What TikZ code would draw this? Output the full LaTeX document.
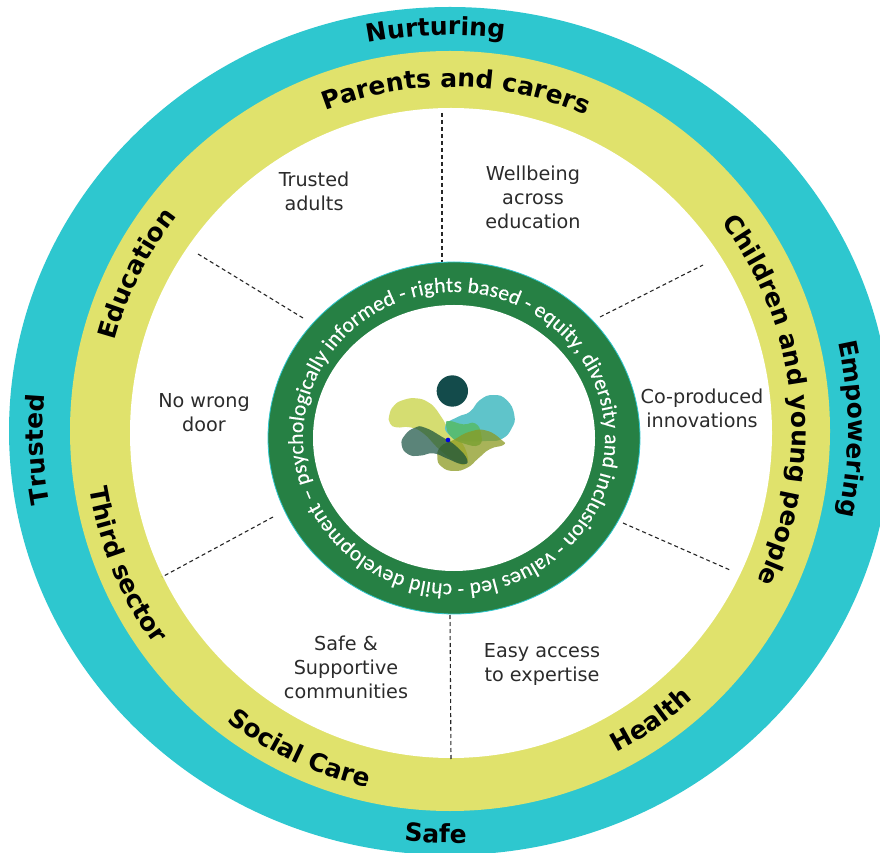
\documentclass[tikz,border=0pt]{standalone}
\usepackage{fontspec}
\usetikzlibrary{decorations.text}
\setmainfont{DejaVu Sans}
\newfontfamily\boldring{DejaVu Sans Bold}
\newfontfamily\ringfont[FakeBold=0.3]{Carlito}
\definecolor{tealring}{HTML}{2EC7CF}
\definecolor{yellowring}{HTML}{E0E26C}
\definecolor{greenring}{HTML}{268044}
\definecolor{bodytext}{HTML}{2B2B2B}
\definecolor{logodark}{HTML}{134B4B}
\definecolor{logolime}{HTML}{D3DC6A}
\definecolor{logoteal}{HTML}{5FC4CA}
\definecolor{logopatch}{HTML}{57BC6C}
\definecolor{logoolive}{HTML}{8C9A22}
\definecolor{logomoss}{HTML}{0E4A3A}
\tikzset{
  sector/.style={font=\fontsize{19.2}{24}\selectfont, text=bodytext, align=center, inner sep=0pt},
  divider/.style={draw=black!85, dashed, dash pattern=on 4pt off 3pt, line width=1.1pt},
}
\newcommand{\cwlabel}[5]{\path[decorate, decoration={text along path, text align=center, text={|\boldring\fontsize{25}{27}\selectfont|#5}}] ([shift={(#3+#4:#1 and #2)}]c) arc[start angle=#3+#4, end angle=#3-#4, x radius=#1, y radius=#2];}
\newcommand{\ccwlabel}[5]{\path[decorate, decoration={text along path, text align=center, text={|\boldring\fontsize{25}{27}\selectfont|#5}}] ([shift={(#3-#4:#1 and #2)}]c) arc[start angle=#3-#4, end angle=#3+#4, x radius=#1, y radius=#2];}
\begin{document}
\begin{tikzpicture}[x=1pt,y=1pt]
\useasboundingbox (0,0) rectangle (880,852);
\clip (0,0) rectangle (880,852);
\fill[white] (0,0) rectangle (880,852);
\coordinate (c) at (450,421);
\coordinate (i) at (454,414);
% rings
\fill[tealring] (c) ellipse [x radius=441, y radius=424];
\fill[yellowring] (c) ellipse [x radius=380, y radius=380];
\fill[white] (451,419) ellipse [x radius=321, y radius=325];
% dividers
\coordinate (d1a) at (442,739); \coordinate (d1b) at (442,590);
\coordinate (d2a) at (600,535); \coordinate (d2b) at (703,587);
\coordinate (d3a) at (623,329); \coordinate (d3b) at (730,282);
\coordinate (d4a) at (450,237); \coordinate (d4b) at (451,92);
\coordinate (d5a) at (273,335); \coordinate (d5b) at (162,275);
\coordinate (d6a) at (303,534); \coordinate (d6b) at (198,598);
\draw[divider] (d1a) -- (d1b);
\draw[divider] (d2a) -- (d2b);
\draw[divider] (d3a) -- (d3b);
\draw[divider] (d4a) -- (d4b);
\draw[divider] (d5a) -- (d5b);
\draw[divider] (d6a) -- (d6b);
% inner ring
\fill[greenring, draw=tealring, line width=0.8pt] (i) ellipse [x radius=186, y radius=176];
\fill[white] (i) ellipse [x radius=141, y radius=133];
\path[decorate, decoration={text along path, text align=fit to path, text={|\ringfont\fontsize{21.5}{23}\selectfont\color{white}|psychologically informed - rights based - equity, diversity and inclusion - values led - child development –}}]
  ([shift={(198:151 and 146)}]i) arc[start angle=198, end angle=-160, x radius=151, y radius=146];
% logo
\begin{scope}[shift={(380,487)}, xscale=1/3, yscale=-1/3]
  \fill[logodark] (217,78) circle (47);
  \fill[logolime, opacity=.95] plot[smooth cycle, tension=.85] coordinates {(28,150) (42,122) (70,105) (110,100) (145,112) (170,135) (190,165) (205,190) (240,225) (262,270) (258,295) (235,295) (180,255) (130,205) (90,187) (50,187) (30,175)};
  \fill[logoteal] plot[smooth cycle, tension=.85] coordinates {(197,180) (235,155) (270,140) (300,105) (340,90) (380,105) (403,150) (395,190) (365,222) (320,228) (250,228) (210,212)};
  \fill[logopatch, opacity=.9] plot[smooth cycle, tension=.85] coordinates {(198,180) (208,168) (250,178) (285,175) (303,205) (297,240) (250,235) (212,214)};
  \fill[logoolive, opacity=.75] plot[smooth cycle, tension=.85] coordinates {(172,278) (182,245) (220,225) (270,200) (320,197) (365,225) (370,240) (330,252) (295,280) (262,308) (220,318) (185,305)};
  \fill[logomoss, opacity=.68] plot[smooth cycle, tension=.85] coordinates {(65,240) (75,210) (105,188) (135,188) (185,215) (230,245) (262,285) (245,297) (200,280) (160,265) (120,272) (85,268)};
  \fill[blue!90!black] (204,225) circle (7);
\end{scope}
% sector texts
\node[sector] (n1) at (314,661) {Trusted\\adults};
\node[sector] (n2) at (533,655) {Wellbeing\\across\\education};
\node[sector] (n3) at (702,444) {Co-produced\\innovations};
\node[sector] (n4) at (204,439) {No wrong\\door};
\node[sector] (n5) at (346,185) {Safe \&\\Supportive\\communities};
\node[sector] (n6) at (542,188) {Easy access\\to expertise};
% curved bold labels
\cwlabel{415}{396}{92}{40}{Nurturing}
\cwlabel{344}{344}{89}{40}{Parents and carers}
\cwlabel{342}{342}{5.7}{50}{Children and young people}
\cwlabel{347}{347}{153.4}{30}{Education}
\cwlabel{407}{407}{182.6}{20}{Trusted}
\cwlabel{398}{398}{0.3}{25}{Empowering}
\ccwlabel{365}{365}{202.5}{30}{Third sector}
\ccwlabel{366}{366}{244.7}{30}{Social Care}
\ccwlabel{362}{362}{304.8}{25}{Health}
\ccwlabel{420}{412}{268}{15}{Safe}
\end{tikzpicture}
\end{document}
